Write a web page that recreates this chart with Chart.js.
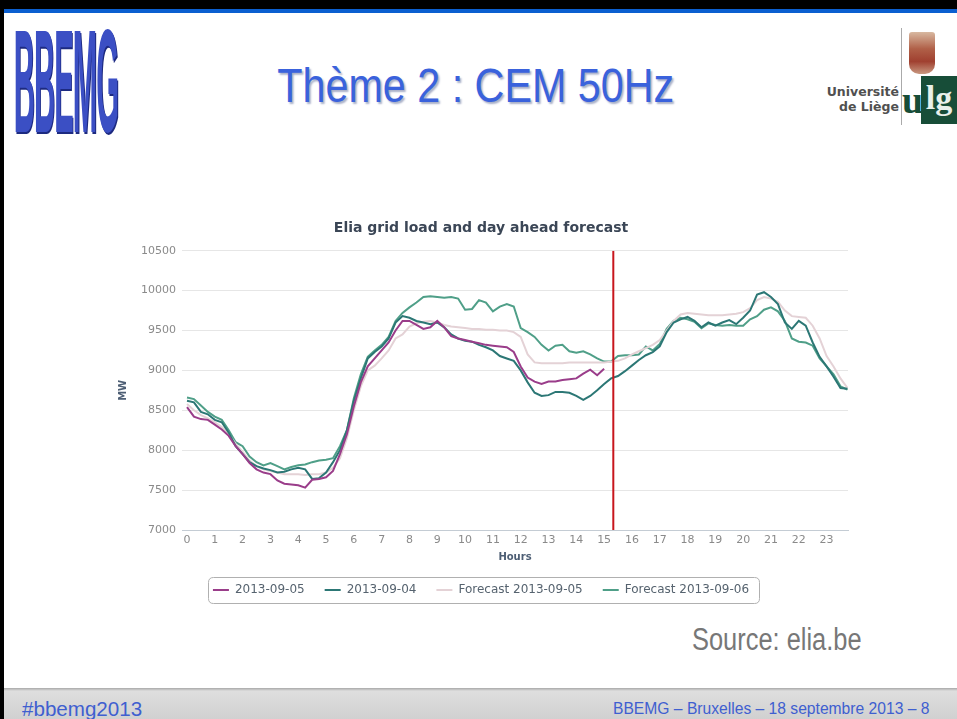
<!DOCTYPE html>
<html><head><meta charset="utf-8">
<script src="https://cdn.jsdelivr.net/npm/chart.js@4.4.0/dist/chart.umd.min.js"></script>
<style>
html,body{margin:0;padding:0;background:#fff;width:957px;height:719px;overflow:hidden;position:relative;font-family:"Liberation Sans",Arial,sans-serif}
.abs{position:absolute}
#topblack{left:0;top:0;width:957px;height:9px;background:#000}
#topblue{left:0;top:9px;width:957px;height:4px;background:#0b5fd0}
#leftbar{left:0;top:0;width:4px;height:719px;background:#000}
#footer{left:4px;top:688px;width:953px;height:31px;background:linear-gradient(#a8a8a8 0px,#dedede 3px,#d0d0d0 100%)}
#title{left:0;top:58px;width:952px;text-align:center;font-size:48px;color:#3a62dc;text-shadow:2px 2px 2px #a9b0c8;white-space:nowrap}
#title span{display:inline-block;transform:scaleX(0.86);transform-origin:center}
#logo{left:6px;top:7px;width:110px;text-align:center;font-family:"Liberation Sans",sans-serif;font-weight:bold;font-size:34px;line-height:34px;color:#3b4fc4;letter-spacing:-1px;transform:scale(0.86,4.3);transform-origin:center top;text-shadow:1px 0.5px 0 #1d2a80;white-space:nowrap}
#ulgtxt{left:790px;top:84px;width:109px;text-align:right;font-size:12.5px;line-height:15px;color:#505050;font-weight:bold;font-family:"DejaVu Sans",sans-serif}
#ulgframe{left:901px;top:28px;width:56px;height:97px;border-left:1px solid #aaa;background:#fff}
#crest{left:909px;top:32px;width:26px;height:42px;background:linear-gradient(#d8b8a0,#b06048 40%,#a04030 70%,#c89880);border-radius:3px 3px 10px 10px}
#ulgU{left:902px;top:76px;width:20px;height:48px;font-family:"Liberation Serif",serif;font-weight:bold;font-size:38px;color:#174d38;line-height:48px}
#ulgG{left:921px;top:76px;width:36px;height:48px;background:#174d38;color:#e8f0ea;font-family:"Liberation Serif",serif;font-weight:bold;font-size:34px;line-height:44px;text-align:center}
#source{left:692px;top:622px;font-size:31px;color:#777;white-space:nowrap;transform:scaleX(0.82);transform-origin:left top}
#foot1{left:22px;top:697px;font-size:21px;color:#3f5fd0;white-space:nowrap;transform:scaleX(0.98);transform-origin:left top}
#foot2{left:613px;top:699px;font-size:17px;color:#3f5fd0;white-space:nowrap;transform:scaleX(0.92);transform-origin:left top}
#chartbox{left:95px;top:205px;width:772px;height:401px}
</style></head>
<body>
<div id="topblack" class="abs"></div>
<div id="topblue" class="abs"></div>
<div id="leftbar" class="abs"></div>
<div id="logo" class="abs">BBEMG</div>
<div id="title" class="abs"><span>Thème 2 : CEM 50Hz</span></div>
<div id="ulgtxt" class="abs">Université<br>de Liège</div>
<div id="ulgframe" class="abs"></div>
<div id="crest" class="abs"></div>
<div id="ulgU" class="abs">u</div>
<div id="ulgG" class="abs">lg</div>
<div id="chartbox" class="abs"><canvas id="c" width="772" height="401"></canvas></div>
<div id="source" class="abs">Source: elia.be</div>
<div id="footer" class="abs"></div>
<div id="foot1" class="abs">#bbemg2013</div>
<div id="foot2" class="abs">BBEMG – Bruxelles – 18 septembre 2013 – 8</div>
<script>
// ---- data (MW, every quarter hour from 00:00) ----
const chartTitle = "Elia grid load and day ahead forecast";
const seriesNames = ["2013-09-05", "2013-09-04", "Forecast 2013-09-05", "Forecast 2013-09-06"];
const hourTicks = [0,1,2,3,4,5,6,7,8,9,10,11,12,13,14,15,16,17,18,19,20,21,22,23];
const hourLabels = ["0","1","2","3","4","5","6","7","8","9","10","11","12","13","14","15","16","17","18","19","20","21","22","23"];
const yTicks = [7000, 7500, 8000, 8500, 9000, 9500, 10000, 10500];
const nowHour = 15.33;

const load0905 = [
 8540,8420,8390,8380, 8320,8260,8180,8050, 7950,7840,7760,7720, 7700,7620,7580,7570,
 7560,7530,7630,7640, 7660,7740,7950,8200, 8550,8850,9050,9150, 9250,9350,9500,9620,
 9620,9570,9520,9540, 9620,9540,9430,9400, 9380,9360,9340,9320, 9310,9300,9290,9230,
 9050,8910,8860,8830, 8860,8860,8880,8890, 8900,8960,9010,8940, 9020];
const load0904 = [
 8620,8600,8480,8450, 8380,8350,8220,8050, 7950,7850,7800,7770, 7750,7720,7730,7760,
 7780,7760,7640,7650, 7720,7850,8000,8250, 8620,8900,9150,9230, 9300,9400,9600,9680,
 9660,9620,9600,9580, 9600,9540,9450,9400, 9370,9360,9320,9290, 9250,9180,9150,9120,
 9000,8850,8720,8680, 8690,8730,8730,8720, 8680,8630,8680,8750, 8830,8900,8930,8990,
 9060,9130,9190,9230, 9300,9480,9600,9640, 9670,9620,9540,9600, 9560,9600,9630,9580,
 9660,9750,9950,9980, 9920,9830,9600,9520, 9620,9560,9350,9170, 9050,8920,8780,8770];
const forecast0905 = [
 8580,8500,8440,8400, 8350,8290,8200,8080, 7980,7870,7800,7760, 7740,7720,7700,7700,
 7700,7690,7700,7700, 7720,7780,7900,8150, 8500,8800,9000,9060, 9150,9250,9400,9450,
 9550,9590,9610,9620, 9600,9570,9550,9540, 9530,9520,9520,9510, 9510,9500,9500,9480,
 9420,9200,9100,9090, 9090,9090,9090,9100, 9100,9100,9100,9100, 9100,9110,9120,9150,
 9200,9240,9280,9320, 9380,9500,9620,9700, 9720,9710,9700,9690, 9690,9690,9700,9710,
 9730,9780,9880,9920, 9900,9860,9750,9680, 9670,9660,9560,9400, 9180,9050,8900,8780];
const forecast0906 = [
 8660,8640,8560,8480, 8420,8380,8250,8100, 8050,7920,7850,7810, 7840,7800,7760,7790,
 7810,7820,7850,7870, 7880,7900,8050,8250, 8650,8950,9170,9250, 9320,9420,9620,9720,
 9790,9850,9920,9930, 9920,9910,9920,9900, 9760,9770,9880,9850, 9740,9800,9830,9800,
 9530,9480,9420,9320, 9250,9310,9320,9240, 9220,9240,9200,9150, 9110,9110,9180,9190,
 9190,9200,9300,9250, 9330,9520,9620,9660, 9640,9610,9530,9590, 9570,9560,9570,9560,
 9560,9640,9680,9760, 9790,9740,9620,9400, 9360,9350,9310,9150, 9050,8950,8800,8760];

const seriesColors = ["#9a3d8a", "#2c7775", "#e4d2d6", "#4f9f88"];

function toPoints(arr){ return arr.map((v,i)=>({x:i/4, y:v})); }

const legendBox = {
  id:'legendBox',
  afterDraw(chart){
    const lg = chart.legend, hb = lg && lg.legendHitBoxes;
    if(!hb || !hb.length) return;
    const ctx = chart.ctx;
    let l = Math.min(...hb.map(h=>h.left)), r = Math.max(...hb.map(h=>h.left+h.width));
    const cy = hb[0].top + hb[0].height/2;
    const x = Math.round(l-5)+0.5, y = Math.round(cy-13)+0.5, w = Math.round(r-l+15), h = 26, rad = 5;
    ctx.save();
    ctx.strokeStyle = '#b0b0b0'; ctx.lineWidth = 1;
    ctx.beginPath();
    ctx.moveTo(x+rad,y); ctx.lineTo(x+w-rad,y); ctx.quadraticCurveTo(x+w,y,x+w,y+rad);
    ctx.lineTo(x+w,y+h-rad); ctx.quadraticCurveTo(x+w,y+h,x+w-rad,y+h);
    ctx.lineTo(x+rad,y+h); ctx.quadraticCurveTo(x,y+h,x,y+h-rad);
    ctx.lineTo(x,y+rad); ctx.quadraticCurveTo(x,y,x+rad,y);
    ctx.stroke();
    ctx.restore();
  }
};

const allSeries = [load0905, load0904, forecast0905, forecast0906];
const datasets = allSeries.map((arr,i)=>({
  label: seriesNames[i],
  data: toPoints(arr),
  borderColor: seriesColors[i],
  backgroundColor: seriesColors[i],
  borderWidth: 2,
  pointRadius: 0,
  tension: 0
}));
datasets.push({
  label: 'now',
  data: [{x: nowHour, y: yTicks[0]}, {x: nowHour, y: yTicks[yTicks.length-1]}],
  borderColor: '#c8161d',
  backgroundColor: '#c8161d',
  borderWidth: 2,
  pointRadius: 0,
  order: -1
});

new Chart(document.getElementById('c'), {
  type: 'line',
  data: { datasets },
  plugins: [legendBox],
  options: {
    responsive: false,
    devicePixelRatio: 1,
    animation: false,
    layout: { padding: 0 },
    plugins: {
      tooltip: { enabled: false },
      title: {
        display: true, text: chartTitle, color: '#3b4656',
        font: { family: 'DejaVu Sans', size: 14, weight: 'bold' },
        padding: { top: 14.6, bottom: 14.3 }
      },
      legend: {
        position: 'bottom',
        labels: {
          filter: (item) => item.datasetIndex < 4,
          boxWidth: 16, boxHeight: 0, padding: 20,
          color: '#56636f',
          font: { family: 'DejaVu Sans', size: 12 }
        }
      }
    },
    scales: {
      x: {
        type: 'linear', min: -0.18, max: 23.77,
        afterFit: (s) => { s.height = 34; },
        afterBuildTicks: (s) => { s.ticks = hourTicks.map(v => ({ value: v })); },
        grid: { display: false, drawTicks: false },
        border: { display: true, color: '#c4ccd4', width: 1 },
        ticks: {
          autoSkip: false, maxRotation: 0, padding: 4,
          color: '#8a8a8a', font: { family: 'DejaVu Sans', size: 11 },
          callback: (v, i) => hourLabels[i]
        },
        title: { display: true, text: 'Hours', color: '#4d5e74',
          font: { family: 'DejaVu Sans', size: 10, weight: 'bold' },
          padding: { top: 0, bottom: 1 } }
      },
      y: {
        min: yTicks[0], max: yTicks[yTicks.length-1],
        afterFit: (s) => { s.width = 87; },
        afterBuildTicks: (s) => { s.ticks = yTicks.map(v => ({ value: v })); },
        grid: { color: '#e6e6e6', drawTicks: false, lineWidth: 1 },
        border: { display: false },
        ticks: {
          padding: 6, color: '#8a8a8a', font: { family: 'DejaVu Sans', size: 11 },
          callback: (v) => String(v)
        },
        title: { display: true, text: 'MW', color: '#4d5e74',
          font: { family: 'DejaVu Sans', size: 10, weight: 'bold' },
          padding: { top: 22, bottom: 0 } }
      },
      yRightSpace: {
        position: 'right', display: true,
        afterFit: (s) => { s.width = 19; },
        grid: { display: false, drawTicks: false },
        border: { display: false },
        ticks: { display: false }
      }
    }
  }
});
</script>
</body></html>
